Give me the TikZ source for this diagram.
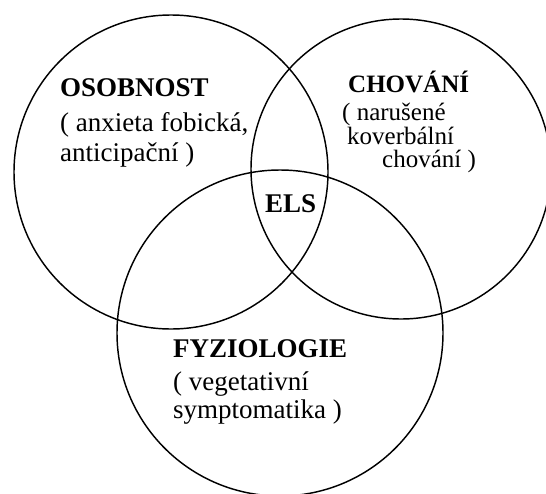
\documentclass[tikz,border=0pt]{standalone}
\usepackage{fontspec}
\setmainfont{Liberation Serif}
\begin{document}
\begin{tikzpicture}[x=1pt,y=-1pt,
  ring/.style={circle,draw=black,line width=1.45pt,inner sep=0pt,outer sep=0pt},
  head/.style={anchor=base west,inner sep=0pt,font=\fontsize{27}{30}\selectfont\bfseries},
  body/.style={anchor=base west,inner sep=0pt,font=\fontsize{27}{30}\selectfont}]
\useasboundingbox[fill=white] (0,0) rectangle (546,493);
\node[ring,minimum size=314pt] (osob) at (171,172) {};
\node[ring,minimum size=300pt] (chov) at (401,169) {};
\node[ring,minimum size=326pt] (fyz) at (280,333) {};
% left
\node[head] (t1) at (60,96) {OSOBNOST};
\node[body] (t2) at (60,131) {( anxieta fobická,};
\node[body] (t3) at (60,161) {anticipační )};
% right
\node[head,font=\fontsize{25}{28}\selectfont\bfseries] (r1) at (348,92) {CHOVÁNÍ};
\node[body,font=\fontsize{25}{28}\selectfont] (r2) at (342,120) {( narušené};
\node[body,font=\fontsize{25}{28}\selectfont] (r3) at (347,144) {koverbální};
\node[body,font=\fontsize{25}{28}\selectfont] (r4) at (382,167) {chování )};
% centre
\node[head] (els) at (265,212) {ELS};
% bottom
\node[head] (b1) at (173,357) {FYZIOLOGIE};
\node[body] (b2) at (173,390) {( vegetativní};
\node[body] (b3) at (173,418) {symptomatika )};
\end{tikzpicture}
\end{document}
